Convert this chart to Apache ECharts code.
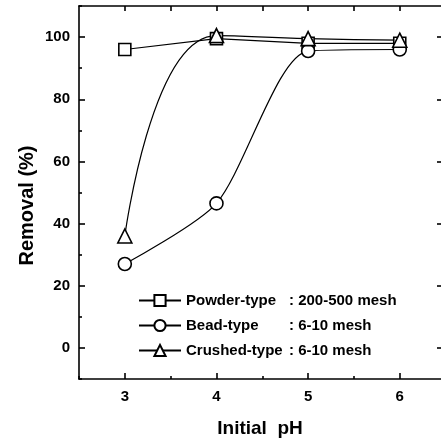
<!DOCTYPE html>
<html><head><meta charset="utf-8">
<script src="https://cdn.jsdelivr.net/npm/echarts@6/dist/echarts.min.js"></script>
<style>html,body{margin:0;padding:0;background:#fff}#c{width:441px;height:445px}</style>
</head><body><div id="c"></div>
<script>
const phValues = [3, 4, 5, 6];
const powderType = [96, 99.5, 98, 98];
const beadType = [27, 46.5, 95.5, 96];
const crushedType = [36, 100.5, 99.5, 99];
const seriesNames = ['Powder-type', 'Bead-type', 'Crushed-type'];
const meshLabels = ['200-500 mesh', '6-10 mesh', '6-10 mesh'];
const yLabelValues = [0, 20, 40, 60, 80, 100];
const yMinorValues = [-10, 10, 30, 50, 70, 90, 110];
const xLabelValues = [3, 4, 5, 6];
const xMinorValues = [2.5, 3.5, 4.5, 5.5];
const xAllTicks = [3, 3.5, 4, 4.5, 5, 5.5, 6];

const font = 'Liberation Sans, Arial, sans-serif';
const pair = arr => phValues.map((x, i) => [x, arr[i]]);
const chart = echarts.init(document.getElementById('c'), null, {renderer: 'canvas'});
const line = {color: '#000', width: 1.6};
const baseX = {type: 'value', min: 2.5, max: 6.45, interval: 0.5, splitLine: {show: false}};
const baseY = {type: 'value', min: -10, max: 110, interval: 10, splitLine: {show: false}};
function mk(name, data, symbol, smooth, size) {
  return {
    name, type: 'line', data: pair(data), symbol, symbolSize: size, smooth,
    lineStyle: {color: '#000', width: 1.2},
    itemStyle: {color: '#fff', borderColor: '#000', borderWidth: 1.6},
    z: 3
  };
}
chart.setOption({
  animation: false,
  backgroundColor: '#fff',
  grid: {left: 79, top: 6, width: 362, height: 373},
  legend: {
    orient: 'vertical', left: 133, top: 288, itemGap: 10, itemWidth: 42, itemHeight: 14,
    data: seriesNames,
    formatter: n => '{a|' + n + '}{b|: ' + meshLabels[seriesNames.indexOf(n)] + '}',
    textStyle: {
      color: '#000', fontFamily: font, fontWeight: 'bold', fontSize: 15,
      rich: {
        a: {width: 103, fontFamily: font, fontWeight: 'bold', fontSize: 15, color: '#000'},
        b: {fontFamily: font, fontWeight: 'bold', fontSize: 15, color: '#000'}
      }
    }
  },
  xAxis: [
    Object.assign({}, baseX, {
      position: 'bottom', name: 'Initial  pH', nameLocation: 'middle', nameGap: 40,
      nameMoveOverlap: false,
      nameTextStyle: {fontFamily: font, fontSize: 19, fontWeight: 'bold', color: '#000'},
      axisLine: {onZero: false, lineStyle: line},
      axisTick: {inside: true, length: 6, lineStyle: line, customValues: xLabelValues},
      axisLabel: {customValues: xLabelValues, margin: 10, fontFamily: font, fontWeight: 'bold', fontSize: 15, color: '#000'}
    }),
    Object.assign({}, baseX, {
      position: 'bottom', axisLine: {show: false, onZero: false}, axisLabel: {show: false},
      axisTick: {inside: true, length: 3, lineStyle: line, customValues: xMinorValues}
    }),
    Object.assign({}, baseX, {
      position: 'top', axisLine: {onZero: false, lineStyle: line}, axisLabel: {show: false},
      axisTick: {inside: true, length: 5, lineStyle: line, customValues: xAllTicks}
    })
  ],
  yAxis: [
    Object.assign({}, baseY, {
      position: 'left', name: 'Removal (%)', nameLocation: 'middle', nameGap: 42,
      nameMoveOverlap: false,
      nameTextStyle: {fontFamily: font, fontSize: 20, fontWeight: 'bold', color: '#000', padding: [0, 26, 0, 0]},
      axisLine: {onZero: false, lineStyle: line},
      axisTick: {inside: true, length: 6, lineStyle: line, customValues: yLabelValues},
      axisLabel: {customValues: yLabelValues, margin: 9, fontFamily: font, fontWeight: 'bold', fontSize: 15, color: '#000'}
    }),
    Object.assign({}, baseY, {
      position: 'left', axisLine: {show: false, onZero: false}, axisLabel: {show: false},
      axisTick: {inside: true, length: 3, lineStyle: line, customValues: yMinorValues}
    }),
    Object.assign({}, baseY, {
      position: 'right', axisLine: {show: false, onZero: false}, axisLabel: {show: false},
      axisTick: {inside: true, length: 4, lineStyle: line, customValues: yLabelValues}
    })
  ],
  series: [
    mk(seriesNames[0], powderType, 'rect', false, 12),
    mk(seriesNames[1], beadType, 'circle', 0.25, 13),
    mk(seriesNames[2], crushedType, 'triangle', 0.5, 14)
  ]
});
</script></body></html>
